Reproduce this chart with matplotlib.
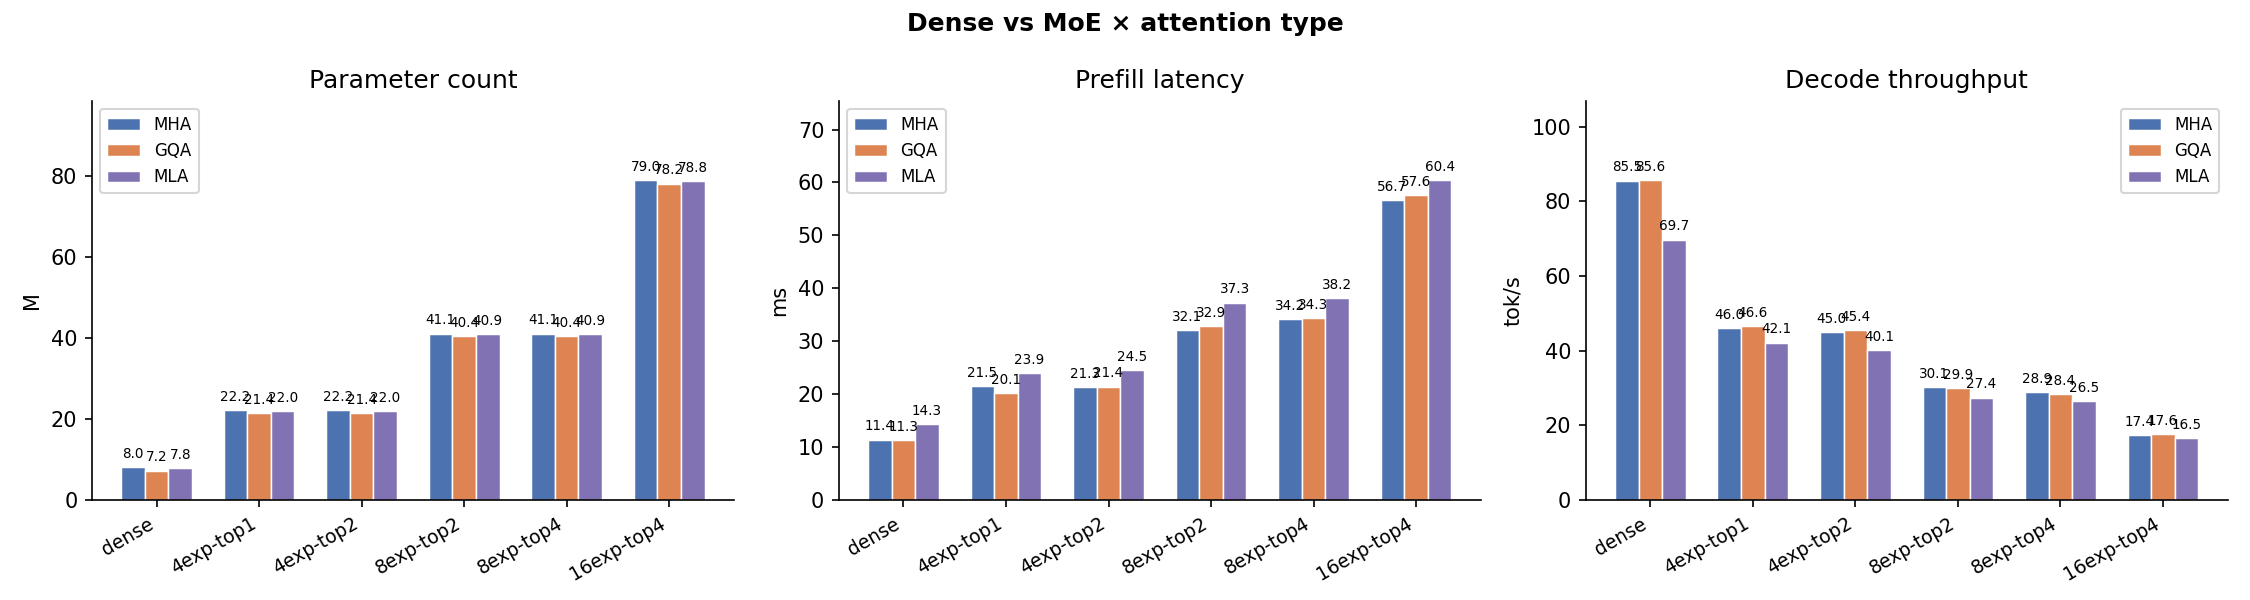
import numpy as np
import matplotlib
matplotlib.use("Agg")
import matplotlib.pyplot as plt

categories = ["dense", "4exp-top1", "4exp-top2", "8exp-top2", "8exp-top4", "16exp-top4"]
attn_types = ["MHA", "GQA", "MLA"]

params_mha = [8.0, 22.2, 22.2, 41.1, 41.1, 79.0]
params_gqa = [7.2, 21.4, 21.4, 40.4, 40.4, 78.2]
params_mla = [7.8, 22.0, 22.0, 40.9, 40.9, 78.8]

prefill_mha = [11.4, 21.5, 21.3, 32.1, 34.2, 56.7]
prefill_gqa = [11.3, 20.1, 21.4, 32.9, 34.3, 57.6]
prefill_mla = [14.3, 23.9, 24.5, 37.3, 38.2, 60.4]

decode_mha = [85.5, 46.0, 45.0, 30.1, 28.9, 17.4]
decode_gqa = [85.6, 46.6, 45.4, 29.9, 28.4, 17.6]
decode_mla = [69.7, 42.1, 40.1, 27.4, 26.5, 16.5]

panel_titles = ["Parameter count", "Prefill latency", "Decode throughput"]
y_labels = ["M", "ms", "tok/s"]
legend_locs = ["upper left", "upper left", "upper right"]
colors = ["#4C72B0", "#DD8452", "#8172B3"]

panels = [
    [params_mha, params_gqa, params_mla],
    [prefill_mha, prefill_gqa, prefill_mla],
    [decode_mha, decode_gqa, decode_mla],
]

fig, axes = plt.subplots(1, 3, figsize=(15, 4), dpi=150)
x = np.arange(len(categories))
w = 0.23
for ax, series, title, ylab, loc in zip(axes, panels, panel_titles, y_labels, legend_locs):
    for i, (vals, name, c) in enumerate(zip(series, attn_types, colors)):
        bars = ax.bar(x + (i - 1) * w, vals, w, label=name, color=c,
                      edgecolor="white", linewidth=0.7)
        ax.bar_label(bars, labels=[f"{v:.1f}" for v in vals], padding=3, fontsize=6.5)
    ymax = max(max(s) for s in series)
    ax.set_ylim(0, ymax * 1.25)
    ax.set_title(title, fontsize=12)
    ax.set_ylabel(ylab, fontsize=10)
    ax.set_xticks(x)
    ax.set_xticklabels(categories, rotation=30, ha="right", fontsize=9)
    ax.tick_params(axis="y", labelsize=10)
    ax.spines["top"].set_visible(False)
    ax.spines["right"].set_visible(False)
    ax.legend(loc=loc, fontsize=8)

fig.suptitle("Dense vs MoE × attention type", fontsize=12, fontweight="bold")
fig.tight_layout()
fig.subplots_adjust(bottom=0.167)
fig.savefig("out.png", dpi=150)
